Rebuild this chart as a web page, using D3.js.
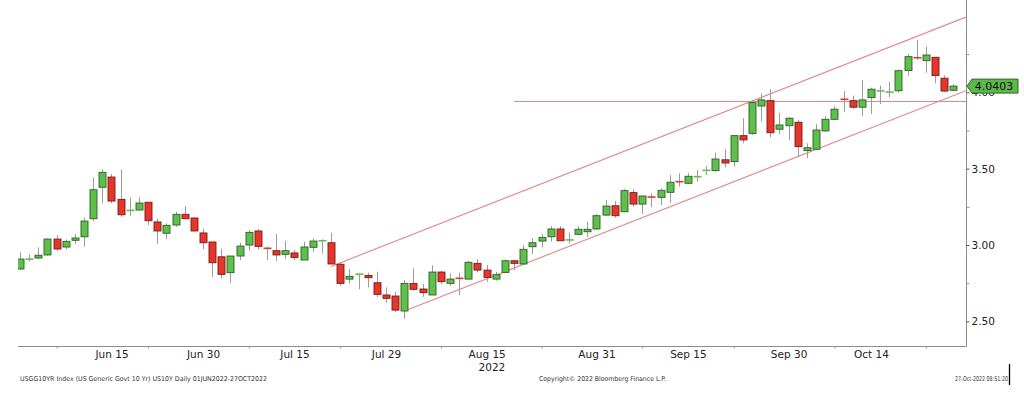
<!DOCTYPE html>
<html>
<head>
<meta charset="utf-8">
<script src="https://cdn.jsdelivr.net/npm/d3@7"></script>
<style>
  body { margin: 0; background: #fff; }
  svg { display: block; font-family: "DejaVu Sans", Verdana, sans-serif; }
</style>
</head>
<body>
<div id="chart"></div>
<script>
// trading days, 01JUN2022 - 27OCT2022
const dates = [
  "2022-06-01","2022-06-02","2022-06-03","2022-06-06","2022-06-07","2022-06-08","2022-06-09","2022-06-10",
  "2022-06-13","2022-06-14","2022-06-15","2022-06-16","2022-06-17","2022-06-21","2022-06-22","2022-06-23",
  "2022-06-24","2022-06-27","2022-06-28","2022-06-29","2022-06-30",
  "2022-07-01","2022-07-05","2022-07-06","2022-07-07","2022-07-08","2022-07-11","2022-07-12","2022-07-13",
  "2022-07-14","2022-07-15","2022-07-18","2022-07-19","2022-07-20","2022-07-21","2022-07-22","2022-07-25",
  "2022-07-26","2022-07-27","2022-07-28","2022-07-29",
  "2022-08-01","2022-08-02","2022-08-03","2022-08-04","2022-08-05","2022-08-08","2022-08-09","2022-08-10",
  "2022-08-11","2022-08-12","2022-08-15","2022-08-16","2022-08-17","2022-08-18","2022-08-19","2022-08-22",
  "2022-08-23","2022-08-24","2022-08-25","2022-08-26","2022-08-29","2022-08-30","2022-08-31",
  "2022-09-01","2022-09-02","2022-09-06","2022-09-07","2022-09-08","2022-09-09","2022-09-12","2022-09-13",
  "2022-09-14","2022-09-15","2022-09-16","2022-09-19","2022-09-20","2022-09-21","2022-09-22","2022-09-23",
  "2022-09-26","2022-09-27","2022-09-28","2022-09-29","2022-09-30",
  "2022-10-03","2022-10-04","2022-10-05","2022-10-06","2022-10-07","2022-10-11","2022-10-12","2022-10-13",
  "2022-10-14","2022-10-17","2022-10-18","2022-10-19","2022-10-20","2022-10-21","2022-10-24","2022-10-25",
  "2022-10-26","2022-10-27"
];

const openVals = [
  2.843,2.905,2.915,2.935,3.039,2.987,3.031,3.054,3.172,3.378,3.445,3.299,3.224,3.229,3.280,3.151,
  3.077,3.131,3.201,3.177,3.079,
  3.020,2.923,2.819,2.928,3.000,3.092,2.985,2.963,2.939,2.948,2.902,2.985,3.026,3.015,2.874,2.777,
  2.808,2.801,2.753,2.673,
  2.666,2.568,2.749,2.712,2.673,2.823,2.749,2.783,2.777,2.880,2.836,2.777,2.821,2.897,2.876,2.989,
  3.026,3.054,3.105,3.028,3.070,3.087,3.105,
  3.196,3.257,3.218,3.343,3.268,3.316,3.312,3.345,3.417,3.404,3.443,3.487,3.487,3.558,3.546,3.716,
  3.731,3.910,3.945,3.758,3.781,
  3.804,3.618,3.627,3.747,3.823,3.956,3.945,3.902,3.965,4.006,3.997,4.010,4.143,4.229,4.207,4.229,
  4.092,4.013
];
const highVals = [
  2.952,2.939,2.985,3.044,3.065,3.037,3.072,3.181,3.441,3.496,3.465,3.496,3.312,3.314,3.280,3.172,
  3.142,3.218,3.255,3.181,3.107,
  3.020,2.976,2.928,3.015,3.098,3.105,2.989,3.072,3.028,2.967,3.022,3.044,3.037,3.081,2.887,2.843,
  2.811,2.819,2.825,2.723,
  2.694,2.771,2.847,2.745,2.867,2.832,2.815,2.819,2.897,2.908,2.869,2.825,2.906,2.897,3.000,3.044,
  3.072,3.124,3.124,3.083,3.124,3.153,3.203,
  3.295,3.288,3.367,3.365,3.321,3.339,3.371,3.458,3.470,3.470,3.491,3.517,3.604,3.627,3.720,3.830,
  3.945,3.993,4.020,3.866,3.836,
  3.819,3.666,3.792,3.845,3.910,4.008,3.978,4.081,4.030,4.043,4.069,4.150,4.251,4.343,4.299,4.229,
  4.111,4.052
];
const lowVals = [
  2.836,2.891,2.908,2.930,2.961,2.972,3.007,2.989,3.155,3.273,3.273,3.185,3.192,3.229,3.129,3.005,
  3.039,3.120,3.172,3.090,2.972,
  2.792,2.782,2.749,2.902,2.963,2.972,2.902,2.897,2.908,2.902,2.902,2.956,2.946,2.876,2.734,2.749,
  2.710,2.723,2.657,2.622,
  2.563,2.517,2.701,2.661,2.673,2.745,2.731,2.673,2.777,2.821,2.760,2.766,2.815,2.836,2.876,2.941,
  2.985,3.022,3.028,3.011,3.065,3.054,3.098,
  3.190,3.179,3.214,3.251,3.203,3.247,3.262,3.277,3.382,3.399,3.415,3.458,3.480,3.509,3.513,3.666,
  3.720,3.807,3.705,3.727,3.688,
  3.578,3.568,3.622,3.742,3.819,3.873,3.893,3.845,3.858,3.923,3.967,3.997,4.109,4.211,4.128,4.059,
  4.002,4.006
];
const closeVals = [
  2.908,2.910,2.933,3.039,2.974,3.024,3.046,3.157,3.362,3.476,3.288,3.198,3.229,3.275,3.159,3.092,
  3.129,3.201,3.172,3.092,3.015,
  2.884,2.808,2.928,2.993,3.083,2.991,2.972,2.935,2.963,2.919,2.987,3.026,3.030,2.876,2.749,2.795,
  2.811,2.786,2.677,2.651,
  2.574,2.749,2.710,2.688,2.823,2.760,2.777,2.781,2.887,2.836,2.788,2.806,2.897,2.880,2.972,3.015,
  3.050,3.105,3.028,3.039,3.103,3.103,3.192,
  3.255,3.192,3.356,3.268,3.321,3.312,3.358,3.411,3.412,3.450,3.452,3.491,3.563,3.537,3.716,3.688,
  3.932,3.950,3.735,3.786,3.830,
  3.644,3.637,3.753,3.823,3.889,3.952,3.902,3.950,4.020,4.012,4.006,4.141,4.233,4.223,4.244,4.109,
  4.008,4.0403
];

// right axis
const yMajorTicks = [2.5, 3.0, 3.5, 4.0];
const yMinorTicks = [2.75, 3.25, 3.75, 4.25];

// bottom axis
const xTickDates = ["2022-06-07","2022-06-22","2022-07-08","2022-07-22","2022-08-08",
                    "2022-08-23","2022-09-08","2022-09-22","2022-10-07","2022-10-24"];
const xLabelDates = ["2022-06-15","2022-06-30","2022-07-15","2022-07-29","2022-08-15",
                     "2022-08-31","2022-09-15","2022-09-30","2022-10-14"];
const xLabelText = ["Jun 15","Jun 30","Jul 15","Jul 29","Aug 15","Aug 31","Sep 15","Sep 30","Oct 14"];
const yearLabel = { date: "2022-08-15", text: "2022" };

// drawn trend lines (two anchor points, extended to the right edge)
const upperChannel = [["2022-07-21", 2.860], ["2022-09-26", 3.942]];
const lowerChannel = [["2022-08-02", 2.568], ["2022-09-30", 3.555]];
const levelLine = { from: "2022-08-18", value: 3.940 };

const lastPrice = 4.0403;

const footerLeft = "USGG10YR Index (US Generic Govt 10 Yr) US10Y  Daily 01JUN2022-27OCT2022";
const footerMid = "Copyright\u00A9 2022 Bloomberg Finance L.P.";
const footerRight = "27-Oct-2022 08:51:20";

const W = 1024, H = 399;
const plotLeft = 18, plotRight = 966, plotTop = 0, plotBottom = 346;

const candles = dates.map((d, i) => ({
  date: d, open: openVals[i], high: highVals[i], low: lowVals[i], close: closeVals[i]
}));

const svg = d3.select("#chart").append("svg")
  .attr("width", W)
  .attr("height", H);

svg.append("rect").attr("width", W).attr("height", H).attr("fill", "#fff");

const x = d3.scalePoint().domain(dates).range([20, 953.3]);
const y = d3.scaleLinear().domain([2.339, 4.604]).range([plotBottom, plotTop]);

svg.append("clipPath").attr("id", "plotClip")
  .append("rect")
  .attr("x", plotLeft).attr("y", plotTop)
  .attr("width", plotRight - plotLeft).attr("height", plotBottom - plotTop);

const plot = svg.append("g").attr("clip-path", "url(#plotClip)");

// trend lines
const lineColor = "#e48686";
function extendedLine(pts) {
  const x1 = x(pts[0][0]), y1 = y(pts[0][1]);
  const x2 = x(pts[1][0]), y2 = y(pts[1][1]);
  const slope = (y2 - y1) / (x2 - x1);
  return [[x1, y1], [plotRight, y1 + slope * (plotRight - x1)]];
}
[upperChannel, lowerChannel].forEach(pts => {
  plot.append("path")
    .attr("d", d3.line()(extendedLine(pts)))
    .attr("stroke", lineColor)
    .attr("stroke-width", 1.1)
    .attr("fill", "none");
});
plot.append("line")
  .attr("x1", x(levelLine.from)).attr("x2", plotRight)
  .attr("y1", Math.round(y(levelLine.value)) + 0.5).attr("y2", Math.round(y(levelLine.value)) + 0.5)
  .attr("stroke", lineColor)
  .attr("stroke-width", 1);

// candles
const upFill = "#5fbf4c", upStroke = "#2c5f22";
const downFill = "#e5362b", downStroke = "#7c1a12";
const bodyW = 7;

const cg = plot.selectAll(".candle")
  .data(candles)
  .enter().append("g")
  .attr("class", "candle");

cg.append("line")
  .attr("x1", d => Math.round(x(d.date)) + 0.5)
  .attr("x2", d => Math.round(x(d.date)) + 0.5)
  .attr("y1", d => y(d.high))
  .attr("y2", d => y(d.low))
  .attr("stroke", "#9c9c9c")
  .attr("stroke-width", 1);

cg.each(function(d) {
  const g = d3.select(this);
  const up = d.close >= d.open;
  const top = y(Math.max(d.open, d.close));
  const bot = y(Math.min(d.open, d.close));
  const cx = Math.round(x(d.date)) + 0.5;
  if (bot - top < 2) {
    g.append("line")
      .attr("x1", cx - bodyW / 2 - 0.5).attr("x2", cx + bodyW / 2 + 0.5)
      .attr("y1", (top + bot) / 2).attr("y2", (top + bot) / 2)
      .attr("stroke", up ? upFill : downFill)
      .attr("stroke-width", 1.6);
  } else {
    g.append("rect")
      .attr("x", cx - bodyW / 2)
      .attr("y", top)
      .attr("width", bodyW)
      .attr("height", bot - top)
      .attr("fill", up ? upFill : downFill)
      .attr("stroke", up ? upStroke : downStroke)
      .attr("stroke-width", 0.9);
  }
});

// axis lines
const axisColor = "#8c8c8c";
svg.append("line")
  .attr("x1", plotLeft).attr("x2", plotRight + 0.5)
  .attr("y1", plotBottom + 0.5).attr("y2", plotBottom + 0.5)
  .attr("stroke", axisColor);
svg.append("line")
  .attr("x1", plotRight + 0.5).attr("x2", plotRight + 0.5)
  .attr("y1", plotTop).attr("y2", plotBottom + 0.5)
  .attr("stroke", axisColor);

// right axis
const yAxis = svg.append("g")
  .attr("transform", `translate(${plotRight + 0.5},0)`)
  .call(d3.axisRight(y).tickValues(yMajorTicks).tickFormat(d3.format(".2f"))
    .tickSize(3).tickPadding(2).tickSizeOuter(0));
yAxis.select(".domain").remove();
yAxis.selectAll("line").attr("stroke", "#555");
yAxis.selectAll("text").attr("fill", "#222").style("font-size", "10.5px")
  .style("font-family", "DejaVu Sans, Verdana, sans-serif");

const yMinor = svg.append("g")
  .attr("transform", `translate(${plotRight + 0.5},0)`)
  .call(d3.axisRight(y).tickValues(yMinorTicks).tickFormat("").tickSize(3).tickSizeOuter(0));
yMinor.select(".domain").remove();
yMinor.selectAll("line").attr("stroke", "#999");

// bottom axis ticks
const xTicks = svg.append("g")
  .attr("transform", `translate(0,${plotBottom + 0.5})`)
  .call(d3.axisBottom(x).tickValues(xTickDates).tickFormat("").tickSize(2).tickSizeOuter(0));
xTicks.select(".domain").remove();
xTicks.selectAll("line").attr("stroke", "#999");

const xLabels = svg.append("g")
  .attr("transform", `translate(0,${plotBottom + 0.5})`)
  .call(d3.axisBottom(x).tickValues(xLabelDates)
    .tickFormat((d, i) => xLabelText[i]).tickSize(0).tickPadding(4).tickSizeOuter(0));
xLabels.select(".domain").remove();
xLabels.selectAll("text").attr("fill", "#222").style("font-size", "10.5px")
  .style("font-family", "DejaVu Sans, Verdana, sans-serif");

// year under Aug 15, right aligned with it
const yearNode = xLabels.selectAll("text").filter((d) => d === yearLabel.date).node();
const yearBox = yearNode.getBBox();
svg.append("text")
  .attr("x", x(yearLabel.date) + yearBox.width / 2)
  .attr("y", 371)
  .attr("text-anchor", "end")
  .attr("fill", "#222")
  .style("font-size", "10.5px")
  .text(yearLabel.text);

// last price tag
const yc = y(lastPrice);
const tag = svg.append("g");
tag.append("path")
  .attr("d", `M${plotRight + 1},${yc} L${plotRight + 6},${yc - 7} L1018,${yc - 7} L1018,${yc + 7} L${plotRight + 6},${yc + 7} Z`)
  .attr("fill", "#5cb84a")
  .attr("stroke", "#2f6a26")
  .attr("stroke-width", 1);
tag.append("text")
  .attr("x", 994)
  .attr("y", yc)
  .attr("dy", "0.36em")
  .attr("text-anchor", "middle")
  .attr("fill", "#111")
  .style("font-size", "11px")
  .text(d3.format(".4f")(lastPrice));

// footer
const foot = svg.append("g").style("font-size", "6.6px").attr("fill", "#333");
foot.append("text").attr("x", 20).attr("y", 381)
  .attr("textLength", 247).attr("lengthAdjust", "spacingAndGlyphs").text(footerLeft);
foot.append("text").attr("x", 539).attr("y", 381)
  .attr("textLength", 127).attr("lengthAdjust", "spacingAndGlyphs").text(footerMid);
foot.append("text").attr("x", 955).attr("y", 381)
  .attr("textLength", 53).attr("lengthAdjust", "spacingAndGlyphs").text(footerRight);

// cursor bar at the end of the footer
svg.append("line")
  .attr("x1", 1009.5).attr("x2", 1009.5)
  .attr("y1", 364).attr("y2", 385)
  .attr("stroke", "#000")
  .attr("stroke-width", 1.3);
</script>
</body>
</html>
